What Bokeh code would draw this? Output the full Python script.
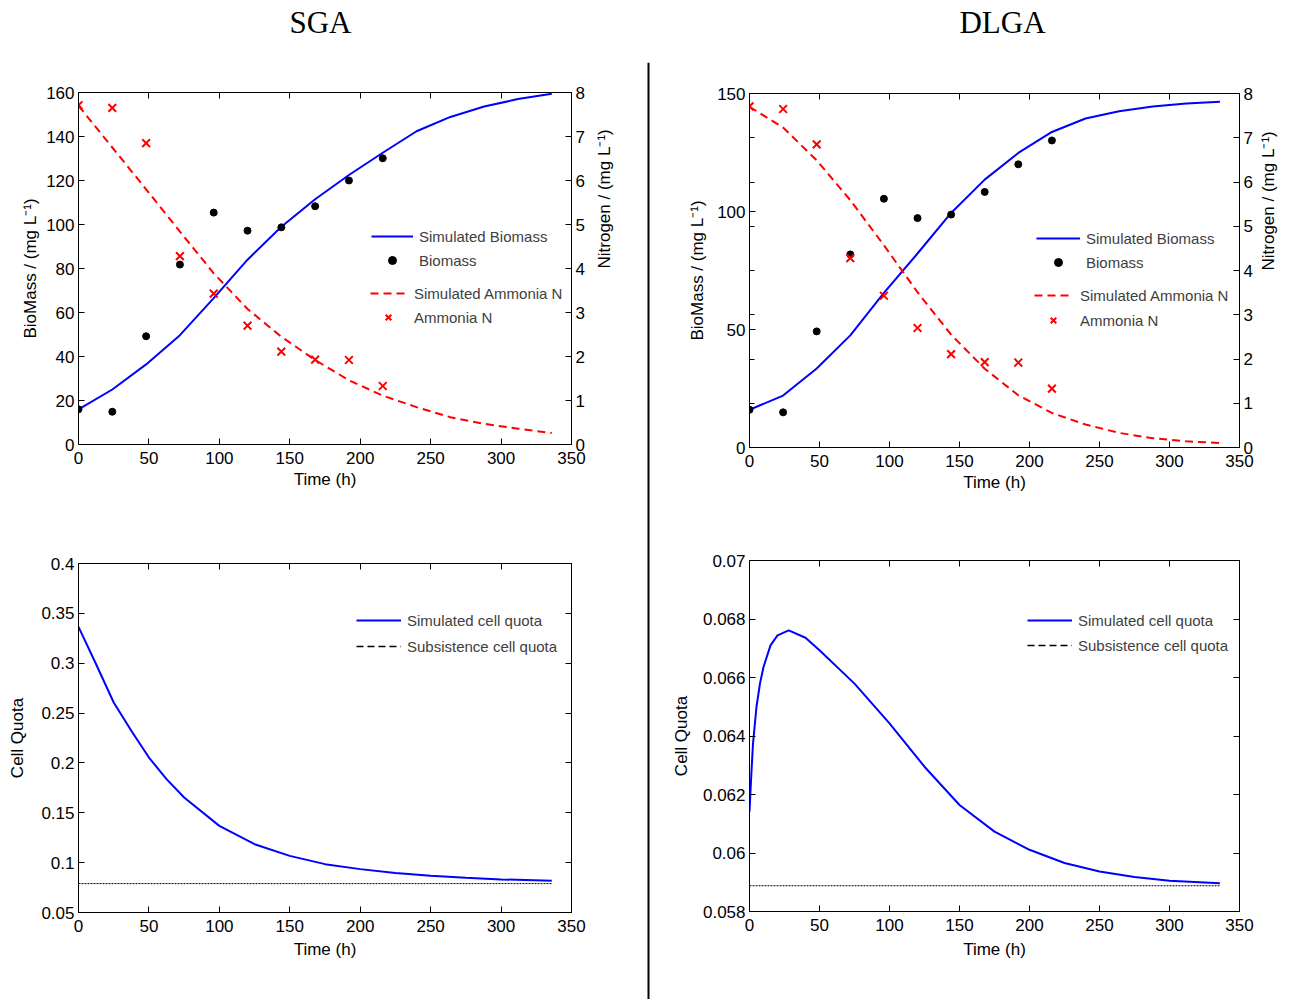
import math
from bokeh.plotting import figure
from bokeh.models import (Range1d, LinearAxis, FixedTicker, CustomJSTickFormatter,
                          Legend, LegendItem, Label, Span)
from bokeh.layouts import column, row
from bokeh.embed import file_html
from bokeh.resources import INLINE

# ---------------- data ----------------
t_obs = [0, 24, 48, 72, 96, 120, 144, 168, 192, 216]
biomass_obs = [16.0, 14.9, 49.2, 81.8, 105.4, 97.2, 98.7, 108.3, 120.0, 130.1]
ammonia_obs = [7.71, 7.65, 6.85, 4.28, 3.43, 2.70, 2.11, 1.93, 1.92, 1.33]

t_sim = [0, 24, 48, 72, 96, 120, 144, 168, 192, 216, 240, 264, 288, 312, 336]
sga_biomass_sim = [16.0, 25.0, 36.4, 49.7, 66.5, 84.0, 99.0, 111.5, 122.5, 132.6,
                   142.4, 148.9, 153.6, 157.0, 159.4]
sga_ammonia_sim = [7.70, 6.75, 5.80, 4.84, 3.89, 3.08, 2.45, 1.92, 1.46, 1.11,
                   0.85, 0.62, 0.47, 0.36, 0.26]
dlga_biomass_sim = [16.0, 22.0, 33.5, 47.5, 65.5, 82.2, 99.4, 113.5, 124.8, 133.7,
                    139.4, 142.5, 144.5, 145.8, 146.5]
dlga_ammonia_sim = [7.70, 7.23, 6.49, 5.59, 4.57, 3.51, 2.55, 1.78, 1.18, 0.78,
                    0.52, 0.33, 0.21, 0.14, 0.10]

t_quota_sga = [0, 12.5, 25, 37.5, 50, 62.5, 75, 100, 125, 150, 175, 200, 225, 250,
               275, 300, 336]
sga_quota = [0.3365, 0.2990, 0.2606, 0.2322, 0.2054, 0.1837, 0.1653, 0.1369, 0.1185,
             0.1068, 0.0985, 0.0935, 0.0897, 0.0868, 0.0848, 0.0832, 0.0818]
sga_subsistence = 0.079

t_quota_dlga = [0, 1, 2.5, 5, 7.5, 10, 15, 20, 28, 40, 50, 75, 100, 125, 150, 175,
                200, 225, 250, 275, 300, 336]
dlga_quota = [0.06141, 0.0624, 0.06374, 0.0650, 0.0658, 0.06636, 0.0671, 0.06744,
              0.06761, 0.06736, 0.06693, 0.06579, 0.06443, 0.06295, 0.06164, 0.06073,
              0.06011, 0.05966, 0.05937, 0.05918, 0.05905, 0.05897]
dlga_subsistence = 0.05888

time_ticks = [0, 50, 100, 150, 200, 250, 300, 350]
sga_biomass_ticks = [0, 20, 40, 60, 80, 100, 120, 140, 160]
dlga_biomass_ticks = [0, 50, 100, 150]
nitrogen_ticks = [0, 1, 2, 3, 4, 5, 6, 7, 8]
sga_quota_ticks = [0.05, 0.1, 0.15, 0.2, 0.25, 0.3, 0.35, 0.4]
dlga_quota_ticks = [0.058, 0.06, 0.062, 0.064, 0.066, 0.068, 0.07]

FONT = "Liberation Sans"
TICK_FS = "17px"
LABEL_FS = "17px"
LEG_FS = "15px"
LEG_COLOR = "#404040"
HAS_ORIENT = "axis_label_orientation" in LinearAxis.properties()


def style_axis(ax, ticks, minor=None, labels=True, standoff=6, label_standoff=4):
    ax.ticker = FixedTicker(ticks=ticks, minor_ticks=minor or [])
    ax.major_tick_in = 6
    ax.major_tick_out = 0
    ax.minor_tick_in = 5
    ax.minor_tick_out = 0
    ax.axis_line_color = "black"
    ax.major_tick_line_color = "black"
    ax.minor_tick_line_color = "black"
    ax.major_label_text_font = FONT
    ax.major_label_text_font_size = TICK_FS
    ax.major_label_text_color = "black"
    ax.axis_label_text_font = FONT
    ax.axis_label_text_font_size = LABEL_FS
    ax.axis_label_text_font_style = "normal"
    ax.axis_label_text_color = "black"
    ax.axis_label_standoff = standoff
    if labels:
        ax.formatter = CustomJSTickFormatter(code="return String(tick);")
        ax.major_label_standoff = label_standoff
    else:
        ax.formatter = CustomJSTickFormatter(code="return '';")
        ax.major_label_standoff = 0


def base_fig(w, h, bl, br, bt, bb, xr, yr):
    p = figure(width=w, height=h, x_range=Range1d(*xr), y_range=Range1d(*yr),
               output_backend="svg", toolbar_location=None,
               x_axis_location=None, y_axis_location=None,
               min_border_left=bl, min_border_right=br,
               min_border_top=bt, min_border_bottom=bb)
    p.grid.visible = False
    p.outline_line_color = "black"
    p.outline_line_width = 1
    p.background_fill_color = "white"
    p.border_fill_color = "white"
    return p


def add_legend(p, items, loc, glyph_w, standoff, spacing):
    leg = Legend(items=[LegendItem(label=l, renderers=[r]) for l, r in items],
                 location=loc, padding=0, margin=0, spacing=spacing,
                 glyph_width=glyph_w, glyph_height=20, label_height=20,
                 label_standoff=standoff, border_line_alpha=0,
                 background_fill_alpha=0, label_text_font=FONT,
                 label_text_font_size=LEG_FS, label_text_color=LEG_COLOR)
    p.add_layout(leg)


def top_plot(w, h, bl, br, bt, bb, ymax, yticks, yminor, biomass_sim, ammonia_sim,
             ls_left, ls_right, ls_bottom, leg1, leg2):
    p = base_fig(w, h, bl, br, bt, bb, (0, 350), (0, ymax))
    p.extra_y_ranges = {"n": Range1d(0, 8)}
    xb = LinearAxis(axis_label="Time (h)")
    style_axis(xb, time_ticks, standoff=ls_bottom, label_standoff=7)
    p.add_layout(xb, "below")
    xt = LinearAxis()
    style_axis(xt, time_ticks, labels=False)
    p.add_layout(xt, "above")
    yl = LinearAxis(axis_label="BioMass / (mg L\u207b\u00b9)")
    style_axis(yl, yticks, minor=yminor, standoff=ls_left)
    p.add_layout(yl, "left")
    yr = LinearAxis(y_range_name="n", axis_label="Nitrogen / (mg L\u207b\u00b9)")
    style_axis(yr, nitrogen_ticks, standoff=ls_right)
    if HAS_ORIENT:
        yr.axis_label_orientation = math.pi / 2
    p.add_layout(yr, "right")

    r_bs = p.line(t_sim, biomass_sim, line_color="#0000ff", line_width=2)
    r_ns = p.line(t_sim, ammonia_sim, y_range_name="n", line_color="#ff0000",
                  line_width=2, line_dash="8 5")
    r_bo = p.scatter(t_obs, biomass_obs, marker="circle", size=7,
                     fill_color="black", line_color="black")
    r_no = p.scatter(t_obs, ammonia_obs, y_range_name="n", marker="x", size=11,
                     line_color="#ff0000", line_width=2)
    add_legend(p, [("Simulated Biomass", r_bs), ("Biomass", r_bo)], *leg1)
    add_legend(p, [("Simulated Ammonia N", r_ns), ("Ammonia N", r_no)], *leg2)
    return p


def quota_plot(w, h, bl, br, bt, bb, yr, yticks, tq, quota, sub, ls_left, ls_bottom, leg):
    p = base_fig(w, h, bl, br, bt, bb, (0, 350), yr)
    xb = LinearAxis(axis_label="Time (h)")
    style_axis(xb, time_ticks, standoff=ls_bottom, label_standoff=7)
    p.add_layout(xb, "below")
    xt = LinearAxis()
    style_axis(xt, time_ticks, labels=False)
    p.add_layout(xt, "above")
    yl = LinearAxis(axis_label="Cell Quota")
    style_axis(yl, yticks, standoff=ls_left)
    p.add_layout(yl, "left")
    yrt = LinearAxis()
    style_axis(yrt, yticks, labels=False)
    p.add_layout(yrt, "right")

    r_q = p.line(tq, quota, line_color="#0000ff", line_width=2)
    p.line([tq[0], tq[-1]], [sub, sub], line_color="black", line_width=1,
           line_dash="2 1")
    # legend-only proxy (no visible data) for the dashed legend sample
    r_sub_leg = p.line([tq[0], tq[-1]], [float("nan"), float("nan")],
                       line_color="black", line_width=1.5, line_dash="7 4")
    add_legend(p, [("Simulated cell quota", r_q), ("Subsistence cell quota", r_sub_leg)], *leg)
    return p


# ---------------- figures ----------------
nitro_minor_dlga = [n * 150 / 8 for n in nitrogen_ticks[1:-1]]

p_tl = top_plot(645, 443, 78, 73, 30, 61, 160, sga_biomass_ticks, None,
                sga_biomass_sim, sga_ammonia_sim, 3, 17, 3,
                ((293, 174), 42, 6, 4), ((292, 117), 36, 8, 4))
p_tr = top_plot(640, 443, 98, 51, 31, 58, 150, dlga_biomass_ticks, nitro_minor_dlga,
                dlga_biomass_sim, dlga_ammonia_sim, 7, 13, 3,
                ((287, 175), 44, 6, 4), ((285, 117), 38, 8, 5))
p_bl = quota_plot(645, 488, 77, 74, 58, 81, (0.05, 0.4), sga_quota_ticks,
                  t_quota_sga, sga_quota, sga_subsistence, 11, 5,
                  ((278, 256), 45, 6, 6))
p_br = quota_plot(640, 488, 98, 52, 55, 82, (0.058, 0.07), dlga_quota_ticks,
                  t_quota_dlga, dlga_quota, dlga_subsistence, 9, 6,
                  ((278, 256), 45, 6, 5))

hdr = figure(width=1288, height=62, x_range=Range1d(0, 1288), y_range=Range1d(0, 62),
             output_backend="svg", toolbar_location=None, min_border=0,
             x_axis_location=None, y_axis_location=None)
hdr.grid.visible = False
hdr.outline_line_color = None
for txt, xc in (("SGA", 320), ("DLGA", 1002)):
    hdr.add_layout(Label(x=xc, y=40, text=txt, text_align="center",
                         text_baseline="middle", text_font="Liberation Serif",
                         text_font_size="31px", text_color="black"))

div = figure(width=6, height=937, x_range=Range1d(0, 6), y_range=Range1d(0, 937),
             output_backend="svg", toolbar_location=None, min_border=0,
             x_axis_location=None, y_axis_location=None)
div.grid.visible = False
div.outline_line_color = None
div.add_layout(Span(location=3, dimension="height", line_color="black", line_width=2))

layout = column(hdr, row(column(p_tl, p_bl), div, column(p_tr, p_br)))

open("out.html", "w").write(file_html(layout, INLINE))
